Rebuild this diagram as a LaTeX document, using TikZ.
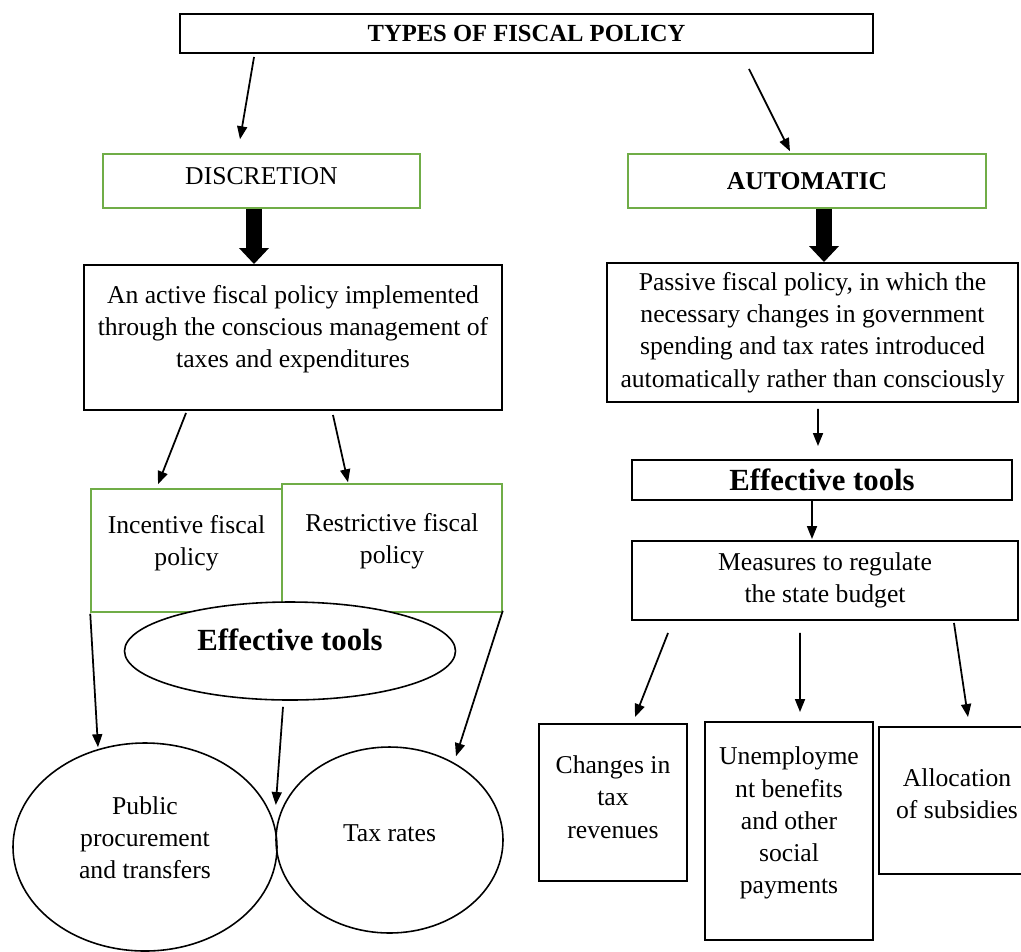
\documentclass[tikz,border=0pt]{standalone}
\usepackage{fontspec}
\setmainfont{Liberation Serif}
\usetikzlibrary{arrows.meta, shapes.geometric, calc}
\definecolor{wdgreen}{HTML}{70AD47}

\begin{document}
\begin{tikzpicture}[
  >={Triangle[length=0.26cm, width=0.2cm]},
  txt/.style={font=\fontsize{14.6}{18.3}\selectfont, align=center, inner sep=0pt},
  bigbold/.style={font=\fontsize{17.5}{21}\selectfont\bfseries},
  bbox/.style={txt, draw, line width=1.1pt, rectangle},
  gbox/.style={txt, draw=wdgreen, line width=0.85pt, rectangle},
  oval/.style={txt, draw, line width=0.9pt, ellipse},
  lift/.style={execute at end node={\rule[-#1]{0pt}{0pt}}},
  arr/.style={->, line width=1pt},
  fatarr/.style={-{Triangle[length=0.32cm, width=0.58cm]}, line width=0.32cm},
]

\useasboundingbox (0,0) rectangle (20.42,-19.02);

% Title
\node[bbox, minimum width=13.86cm, minimum height=0.78cm,
  font=\fontsize{14}{17}\selectfont\bfseries] (title) at (10.53,-0.67) {TYPES OF FISCAL POLICY};

% =============================================
% Left branch: discretion
% =============================================
\node[gbox, minimum width=6.34cm, minimum height=1.08cm, lift=0.2cm] (disc) at (5.23,-3.62) {DISCRETION};
\node[bbox, minimum width=8.36cm, minimum height=2.9cm, lift=0.45cm] (active) at (5.86,-6.75)
  {An active fiscal policy implemented\\through the conscious management of\\taxes and expenditures};

\node[gbox, minimum width=3.82cm, minimum height=2.46cm, lift=0.41cm] (incent) at (3.73,-11.01)
  {Incentive fiscal\\policy};
\node[gbox, minimum width=4.4cm, minimum height=2.56cm, lift=0.39cm] (restr) at (7.84,-10.96)
  {Restrictive fiscal\\policy};
\node[oval, fill=white, bigbold, minimum width=6.62cm, minimum height=1.96cm, lift=0.44cm] (tools) at (5.8,-13.02)
  {Effective tools};

\node[oval, minimum width=5.28cm, minimum height=4.16cm, lift=0.38cm] (public) at (2.9,-16.94)
  {Public\\procurement\\and transfers};
\node[oval, minimum width=4.54cm, minimum height=3.72cm, lift=0.28cm] (taxrate) at (7.79,-16.8) {Tax rates};

% =============================================
% Right branch: automatic
% =============================================
\node[gbox, font=\fontsize{14.6}{18.3}\selectfont\bfseries, minimum width=7.16cm, minimum height=1.08cm] (auto) at (16.14,-3.62) {AUTOMATIC};
\node[bbox, minimum width=8.22cm, minimum height=2.78cm] (passive) at (16.25,-6.65)
  {Passive fiscal policy, in which the\\necessary changes in government\\spending and tax rates introduced\\automatically rather than consciously};
\node[bbox, bigbold, minimum width=7.6cm, minimum height=0.8cm] (effbox) at (16.44,-9.6) {Effective tools};
\node[bbox, minimum width=7.72cm, minimum height=1.58cm] (measures) at (16.5,-11.61)
  {Measures to regulate\\the state budget};

\node[bbox, minimum width=2.96cm, minimum height=3.14cm, lift=0.22cm] (changes) at (12.26,-16.05)
  {Changes in\\tax\\revenues};
\node[bbox, minimum width=3.36cm, minimum height=4.36cm, lift=0.43cm] (unemp) at (15.78,-16.62)
  {Unemployme\\nt benefits\\and other\\social\\payments};
\node[bbox, minimum width=3.12cm, minimum height=2.94cm, lift=0.28cm] (alloc) at (19.14,-16.01)
  {Allocation\\of subsidies};

% Arrows
\draw[arr] ([shift={(1.5,-0.06)}]title.south west) -- ([shift={(-0.43,0.28)}]disc.north);
\draw[arr] ([shift={(-2.5,-0.3)}]title.south east) -- ([shift={(-0.34,0.04)}]auto.north);

\draw[fatarr] ([xshift=-0.15cm]disc.south) -- ($(disc.south |- active.north)+(-0.15,0)$);
\draw[fatarr] ([xshift=0.34cm]auto.south) -- ($(auto.south |- passive.north)+(0.34,0)$);

\draw[arr] ([shift={(2.06,-0.04)}]active.south west) -- ([shift={(-0.57,0.08)}]incent.north);
\draw[arr] ([shift={(-3.4,-0.08)}]active.south east) -- ([shift={(-0.88,0.02)}]restr.north);

\draw[arr] ([shift={(0,-0.02)}]incent.south west) -- ([shift={(-0.94,-0.1)}]public.north);
\draw[arr] ([shift={(-0.14,-0.12)}]tools.south) -- ([shift={(-0.04,0.84)}]public.east);
\draw[arr] ([shift={(0,0.04)}]restr.south east) -- ([shift={(1.33,-0.2)}]taxrate.north);

\draw[arr] ([shift={(0.11,-0.12)}]passive.south) -- ([shift={(-0.08,0.26)}]effbox.north);
\draw[arr] ([shift={(-0.2,0)}]effbox.south) -- ([shift={(-0.26,0.02)}]measures.north);

\draw[arr] ([shift={(0.74,-0.24)}]measures.south west) -- ([shift={(0.44,0.12)}]changes.north);
\draw[arr] ([shift={(-0.5,-0.24)}]measures.south) -- ([shift={(0.22,0.18)}]unemp.north);
\draw[arr] ([shift={(-1.3,-0.04)}]measures.south east) -- ([shift={(0.22,0.18)}]alloc.north);

\end{tikzpicture}
\end{document}
